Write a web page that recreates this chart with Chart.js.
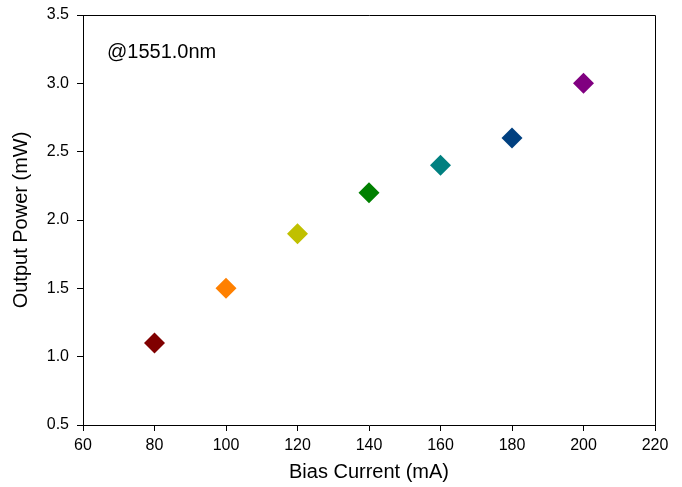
<!DOCTYPE html>
<html>
<head>
<meta charset="utf-8">
<script src="https://cdn.jsdelivr.net/npm/chart.js@4"></script>
<style>
html,body{margin:0;padding:0;background:#fff;}
#wrap{width:682px;height:487px;position:relative;}
</style>
</head>
<body>
<div id="wrap"><canvas id="c" width="682" height="487"></canvas></div>
<script>
const biasCurrent = [80, 100, 120, 140, 160, 180, 200];
const outputPower = [1.1, 1.5, 1.9, 2.2, 2.4, 2.6, 3.0];
const pointColors = ['#800000', '#FF8000', '#C0C000', '#008000', '#008080', '#004080', '#800080'];
const xTicks = [60, 80, 100, 120, 140, 160, 180, 200, 220];
const yTicks = [0.5, 1.0, 1.5, 2.0, 2.5, 3.0, 3.5];
const annotationText = '@1551.0nm';

const FONT = "'Liberation Sans', Arial, sans-serif";

const framePlugin = {
  id: 'frame',
  afterDraw(chart) {
    const {ctx, chartArea: a} = chart;
    ctx.save();
    ctx.strokeStyle = '#000';
    ctx.lineWidth = 1;
    ctx.beginPath();
    ctx.moveTo(a.left, a.top + 0.5);
    ctx.lineTo(a.right + 0.5, a.top + 0.5);
    ctx.lineTo(a.right + 0.5, a.bottom);
    ctx.stroke();
    ctx.fillStyle = '#000';
    ctx.font = "20px " + FONT;
    ctx.textBaseline = 'middle';
    ctx.fillText(annotationText, a.left + 24, 52);
    ctx.restore();
  }
};

new Chart(document.getElementById('c'), {
  type: 'scatter',
  data: {
    datasets: [{
      data: biasCurrent.map((x, i) => ({x: x, y: outputPower[i]})),
      pointStyle: 'rectRot',
      pointRadius: 10.5,
      pointHoverRadius: 10.5,
      pointBorderWidth: 0,
      backgroundColor: pointColors,
      borderColor: pointColors
    }]
  },
  options: {
    responsive: false,
    animation: false,
    devicePixelRatio: 1,
    layout: {padding: {left: 9, right: 27, top: 15, bottom: 3}},
    plugins: {legend: {display: false}, tooltip: {enabled: false}},
    scales: {
      x: {
        type: 'linear',
        min: 60, max: 220,
        afterBuildTicks: s => { s.ticks = xTicks.map(v => ({value: v})); },
        afterFit: s => { s.height = 59; s.paddingLeft = 0; s.paddingRight = 0; },
        grid: {drawOnChartArea: false, drawTicks: true, tickLength: 6, color: '#000'},
        border: {display: true, color: '#000', width: 1},
        ticks: {color: '#000', font: {family: FONT, size: 16}, padding: 5, maxRotation: 0},
        title: {display: true, text: 'Bias Current (mA)', color: '#000', font: {family: FONT, size: 20}, padding: {top: 4, bottom: 0}}
      },
      y: {
        type: 'linear',
        min: 0.5, max: 3.5,
        afterBuildTicks: s => { s.ticks = yTicks.map(v => ({value: v})); },
        afterFit: s => { s.width = 74; s.paddingTop = 0; s.paddingBottom = 0; },
        grid: {drawOnChartArea: false, drawTicks: true, tickLength: 6, color: '#000'},
        border: {display: true, color: '#000', width: 1},
        ticks: {color: '#000', font: {family: FONT, size: 16}, padding: 8, callback: v => v.toFixed(1)},
        title: {display: true, text: 'Output Power (mW)', color: '#000', font: {family: FONT, size: 20}, padding: {top: 0, bottom: 4}}
      }
    }
  },
  plugins: [framePlugin]
});
</script>
</body>
</html>
